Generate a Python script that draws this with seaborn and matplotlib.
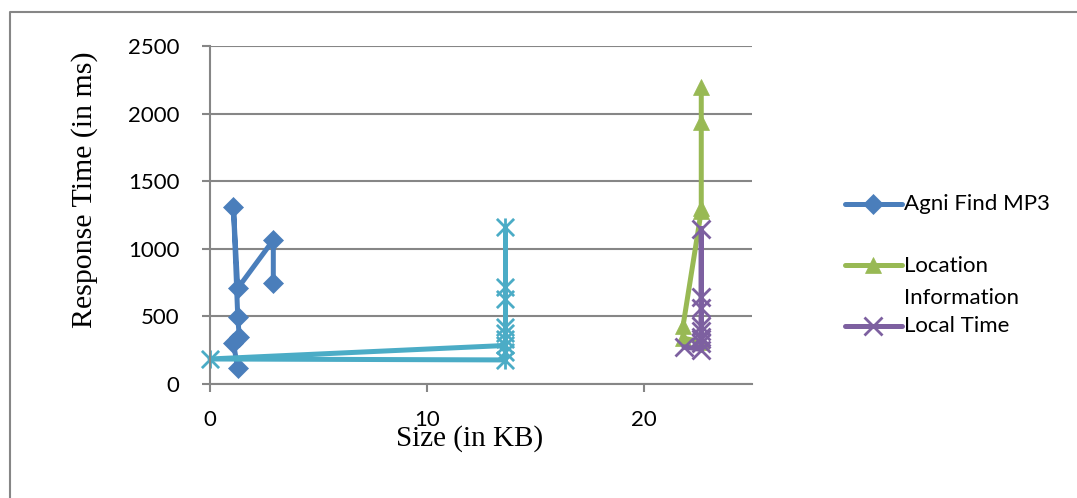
import matplotlib
matplotlib.use("Agg")
import matplotlib.pyplot as plt
from matplotlib.lines import Line2D
from matplotlib.path import Path
import seaborn as sns

# ---- data ----
agni_x = [2.92, 2.92, 1.28, 1.08, 1.28, 1.35, 1.08, 1.28]
agni_y = [745, 1065, 708, 1311, 498, 350, 303, 115]

loc_x = [22.66, 21.82, 21.82, 22.66, 22.66, 22.66, 22.66]
loc_y = [310, 340, 430, 1280, 1300, 1940, 2200]

time_x = [21.86, 22.66, 22.66, 22.66, 22.66, 22.66, 22.66, 22.66, 22.66, 22.66]
time_y = [275, 255, 330, 390, 430, 560, 640, 1150, 350, 300]

other_x = [13.63, 13.63, 13.63, 13.63, 13.63, 13.63, 13.63, 0.0, 13.63, 13.63]
other_y = [1160, 720, 630, 420, 380, 335, 285, 185, 178, 240]

series_names = ["Agni Find MP3", "Location\nInformation", "Local Time"]
x_ticks = [0, 10, 20]
y_ticks = [0, 500, 1000, 1500, 2000, 2500]

BLUE = "#4a7ebb"
GREEN = "#98b954"
PURPLE = "#7d60a0"
CYAN = "#4bacc6"
GRID = "#868686"

# Excel-like star marker: an "x" with a vertical bar through it
STAR = Path([(-1, -1), (1, 1), (-1, 1), (1, -1), (0, -1.05), (0, 1.05)],
            [Path.MOVETO, Path.LINETO, Path.MOVETO, Path.LINETO, Path.MOVETO, Path.LINETO])

sns.set_theme(style="white")
plt.rcParams["font.family"] = ["Lato", "DejaVu Sans"]

fig = plt.figure(figsize=(10.77, 4.98), dpi=100)
ax = fig.add_axes([210 / 1077, 1 - 384 / 498, (752 - 210) / 1077, (384 - 46) / 498])

lw = 3.6
common = dict(sort=False, estimator=None, linewidth=lw, ax=ax, legend=False, clip_on=False)

sns.lineplot(x=agni_x, y=agni_y, color=BLUE, marker="D", markersize=10,
             markeredgecolor=BLUE, markerfacecolor=BLUE, markeredgewidth=0.5, **common)
sns.lineplot(x=loc_x, y=loc_y, color=GREEN, marker="^", markersize=12,
             markeredgecolor=GREEN, markerfacecolor=GREEN, markeredgewidth=0.5, **common)
sns.lineplot(x=time_x, y=time_y, color=PURPLE, marker="x", markersize=13,
             markeredgecolor=PURPLE, markeredgewidth=2.0, **common)
sns.lineplot(x=other_x, y=other_y, color=CYAN, marker=STAR, markersize=13,
             markeredgecolor=CYAN, markerfacecolor="none", markeredgewidth=2.0, **common)

ax.set_xlim(0, 25)
ax.set_ylim(0, 2500)
ax.set_xticks(x_ticks)
ax.set_yticks(y_ticks)
ax.set_xticklabels([str(v) for v in x_ticks])
ax.set_yticklabels([str(v) for v in y_ticks])

ax.grid(False)
ax.yaxis.grid(True, color=GRID, linewidth=1.5)
ax.set_axisbelow(True)
for s in ["top", "right"]:
    ax.spines[s].set_visible(False)
for s in ["left", "bottom"]:
    ax.spines[s].set_color(GRID)
    ax.spines[s].set_linewidth(1.5)

ax.tick_params(axis="x", direction="out", length=6, width=1.5, color=GRID,
               labelsize=16, pad=13, bottom=True)
ax.tick_params(axis="y", direction="out", length=6, width=1.5, color=GRID,
               labelsize=16, pad=16, left=True)
for lab in ax.get_xticklabels() + ax.get_yticklabels():
    lab.set_color("black")

serif = ["Liberation Serif", "DejaVu Serif"]
ax.set_xlabel("Size (in KB)", family=serif, fontsize=21, color="black")
ax.set_ylabel("Response Time (in ms)", family=serif, fontsize=21.5, color="black")
ax.xaxis.set_label_coords((470 - 210) / (752 - 210), -(439 - 384) / (384 - 46))
ax.xaxis.label.set_va("center")
ax.yaxis.set_label_coords(-(210 - 85) / (752 - 210), (384 - 190) / (384 - 46))
ax.yaxis.label.set_va("center")

# ---- legend (manual, to mimic the original layout) ----
W, H = 1077, 498
def fx(px):
    return px / W
def fy(py):
    return 1 - py / H

legend_items = [
    (series_names[0], BLUE, "D", 10, 0.5, 204, 204, "center"),
    (series_names[1], GREEN, "^", 12, 0.5, 265, 256, "top"),
    (series_names[2], PURPLE, "x", 13, 2.0, 326, 326, "center"),
]
for label, col, mk, ms, mew, hy, ty, va in legend_items:
    fig.add_artist(Line2D([fx(845), fx(902)], [fy(hy), fy(hy)], color=col, linewidth=lw,
                          transform=fig.transFigure))
    fig.add_artist(Line2D([fx(873)], [fy(hy)], color=col, marker=mk, markersize=ms,
                          markeredgewidth=mew, markeredgecolor=col, markerfacecolor=col,
                          linestyle="none", transform=fig.transFigure))
    fig.text(fx(904), fy(ty), label, fontsize=16, color="black", ha="left", va=va,
             linespacing=1.78, transform=fig.transFigure)

# outer chart frame
fig.add_artist(Line2D([fx(10), fx(10), fx(1077)], [fy(498), fy(12), fy(12)], color=GRID,
                      linewidth=1.5, transform=fig.transFigure))

fig.savefig("out.png", dpi=100)
